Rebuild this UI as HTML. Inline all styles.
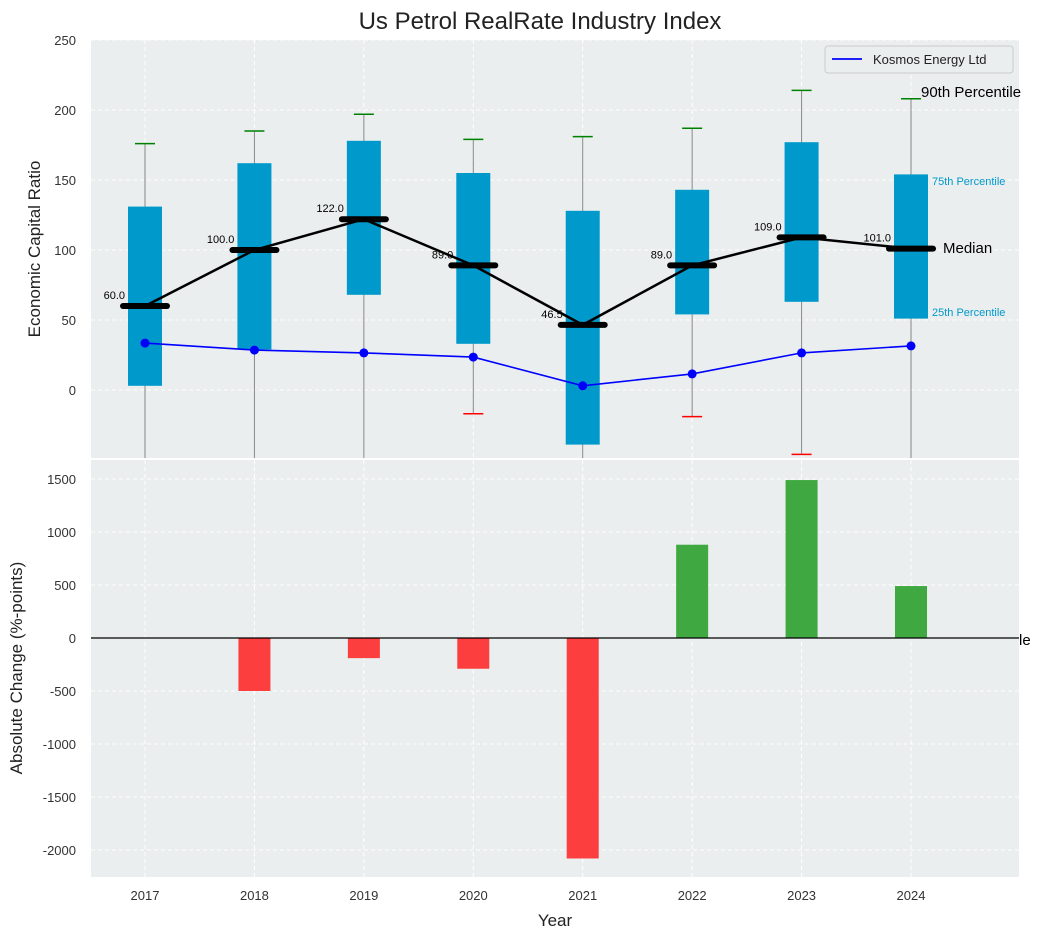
<!DOCTYPE html>
<html><head><meta charset="utf-8"><style>
body{margin:0;background:#fff;font-family:"Liberation Sans",sans-serif;}
svg text{font-family:"Liberation Sans",sans-serif;}
</style></head><body>
<svg id="c" width="1043" height="940" xmlns="http://www.w3.org/2000/svg">
<text x="540" y="29" font-size="24" text-anchor="middle" fill="#222">Us Petrol RealRate Industry Index</text>
<rect x="91" y="40" width="928" height="418" fill="#eaeeee"/>
<rect x="91" y="460" width="928" height="417" fill="#eaeeee"/>
<g id="gtop"></g><g id="gbot"></g>
<text x="40" y="249" font-size="17" fill="#222" text-anchor="middle" transform="rotate(-90 40 249)">Economic Capital Ratio</text>
<text x="22" y="668" font-size="17" fill="#222" text-anchor="middle" transform="rotate(-90 22 668)">Absolute Change (%-points)</text>
<text x="555" y="926" font-size="17" fill="#222" text-anchor="middle">Year</text>
<g>
<rect x="825" y="46" width="188" height="27" fill="#eaeeee" stroke="#ccc" rx="3"/>
<line x1="832" y1="59" x2="862" y2="59" stroke="blue" stroke-width="1.8"/>
<text x="873" y="64" font-size="13" fill="#222">Kosmos Energy Ltd</text>
</g>
<text x="921" y="97" font-size="15" fill="#000">90th Percentile</text>
<text x="932" y="185" font-size="11" fill="#0099cc">75th Percentile</text>
<text x="943" y="253" font-size="15" fill="#000">Median</text>
<text x="932" y="316" font-size="11" fill="#0099cc">25th Percentile</text>
<text x="1019" y="645" font-size="15" fill="#000">le</text>
</svg>
<script>
const years=[2017,2018,2019,2020,2021,2022,2023,2024];
const q1=[3,29,68,33,-39,54,63,51];
const q3=[131,162,178,155,128,143,177,154];
const p90=[176,185,197,179,181,187,214,208];
const p10=[-70,-70,-70,-17,-70,-19,-46,-70];
const medians=[60,100,122,89,46.5,89,109,101];
const kosmos=[33.5,28.5,26.5,23.5,3,11.5,26.5,31.5];
const changes=[0,-500,-190,-290,-2080,880,1490,490];
const topTicks=[0,50,100,150,200,250];
const botTicks=[-2000,-1500,-1000,-500,0,500,1000,1500];
const NS="http://www.w3.org/2000/svg";
const x=v=>145+(v-2017)*109.43;
const yT=v=>390-v*1.4;
const yB=v=>638-v*0.106;
function mk(p,t,a){const e=document.createElementNS(NS,t);for(const k in a)e.setAttribute(k,a[k]);p.appendChild(e);return e;}
const gTop=document.getElementById('gtop'),gBot=document.getElementById('gbot');
topTicks.forEach(t=>{const l=mk(gTop,'line',{x1:91,x2:1019,y1:yT(t),y2:yT(t),stroke:'#fff','stroke-dasharray':'4,3'});


const tx=mk(gTop,'text',{x:76,y:yT(t)+5,'font-size':13,fill:'#333','text-anchor':'end'});tx.textContent=t;

});
botTicks.forEach(t=>{const l=mk(gBot,'line',{x1:91,x2:1019,y1:yB(t),y2:yB(t),stroke:'#fff','stroke-dasharray':'4,3'});


const tx=mk(gBot,'text',{x:76,y:yB(t)+5,'font-size':13,fill:'#333','text-anchor':'end'});tx.textContent=t;

});
years.forEach(yr=>{[[gTop,40,458],[gBot,460,877]].forEach(([g,a,b])=>{const l=mk(g,'line',{x1:x(yr),x2:x(yr),y1:a,y2:b,stroke:'#fff','stroke-dasharray':'4,3'});

});
const tx=mk(gBot,'text',{x:x(yr),y:900,'font-size':13,fill:'#333','text-anchor':'middle'});tx.textContent=yr;

});
const clipY=v=>Math.min(458,Math.max(40,yT(v)));
years.forEach((yr,i)=>{const cx=x(yr);
const w=mk(gTop,'line',{x1:cx,x2:cx,y1:clipY(p90[i]),y2:clipY(p10[i]),stroke:'#888','stroke-width':1});


const b=mk(gTop,'rect',{x:cx-17,y:yT(q3[i]),width:34,height:yT(q1[i])-yT(q3[i]),fill:'#0099cc'});


const c=mk(gTop,'line',{x1:cx-10,x2:cx+10,y1:yT(p90[i]),y2:yT(p90[i]),stroke:'green','stroke-width':1.5});


if(yT(p10[i])<=458){const d=mk(gTop,'line',{x1:cx-10,x2:cx+10,y1:yT(p10[i]),y2:yT(p10[i]),stroke:'red','stroke-width':1.5});

}
});
const mp=mk(gTop,'polyline',{points:years.map((yr,i)=>x(yr)+','+yT(medians[i])).join(' '),fill:'none',stroke:'#000','stroke-width':2.5});


years.forEach((yr,i)=>{const cx=x(yr);
const m=mk(gTop,'line',{x1:cx-22,x2:cx+22,y1:yT(medians[i]),y2:yT(medians[i]),stroke:'#000','stroke-width':6,'stroke-linecap':'round'});


const t=mk(gTop,'text',{x:cx-20,y:yT(medians[i])-7,'font-size':11,fill:'#000','text-anchor':'end'});t.textContent=medians[i].toFixed(1);

});
const kp=mk(gTop,'polyline',{points:years.map((yr,i)=>x(yr)+','+yT(kosmos[i])).join(' '),fill:'none',stroke:'blue','stroke-width':1.6});


years.forEach((yr,i)=>{const p=mk(gTop,'circle',{cx:x(yr),cy:yT(kosmos[i]),r:4.5,fill:'blue'});

});
years.forEach((yr,i)=>{const v=changes[i];if(!v)return;
const r=mk(gBot,'rect',{x:x(yr)-16,y:Math.min(yB(v),yB(0)),width:32,height:Math.abs(yB(v)-yB(0)),fill:v>0?'#2ca02c':'#ff2a2a','fill-opacity':0.9});

});
const z=mk(gBot,'line',{x1:91,x2:1019,y1:yB(0),y2:yB(0),stroke:'#000','stroke-width':1.2});


</script>
</body></html>
